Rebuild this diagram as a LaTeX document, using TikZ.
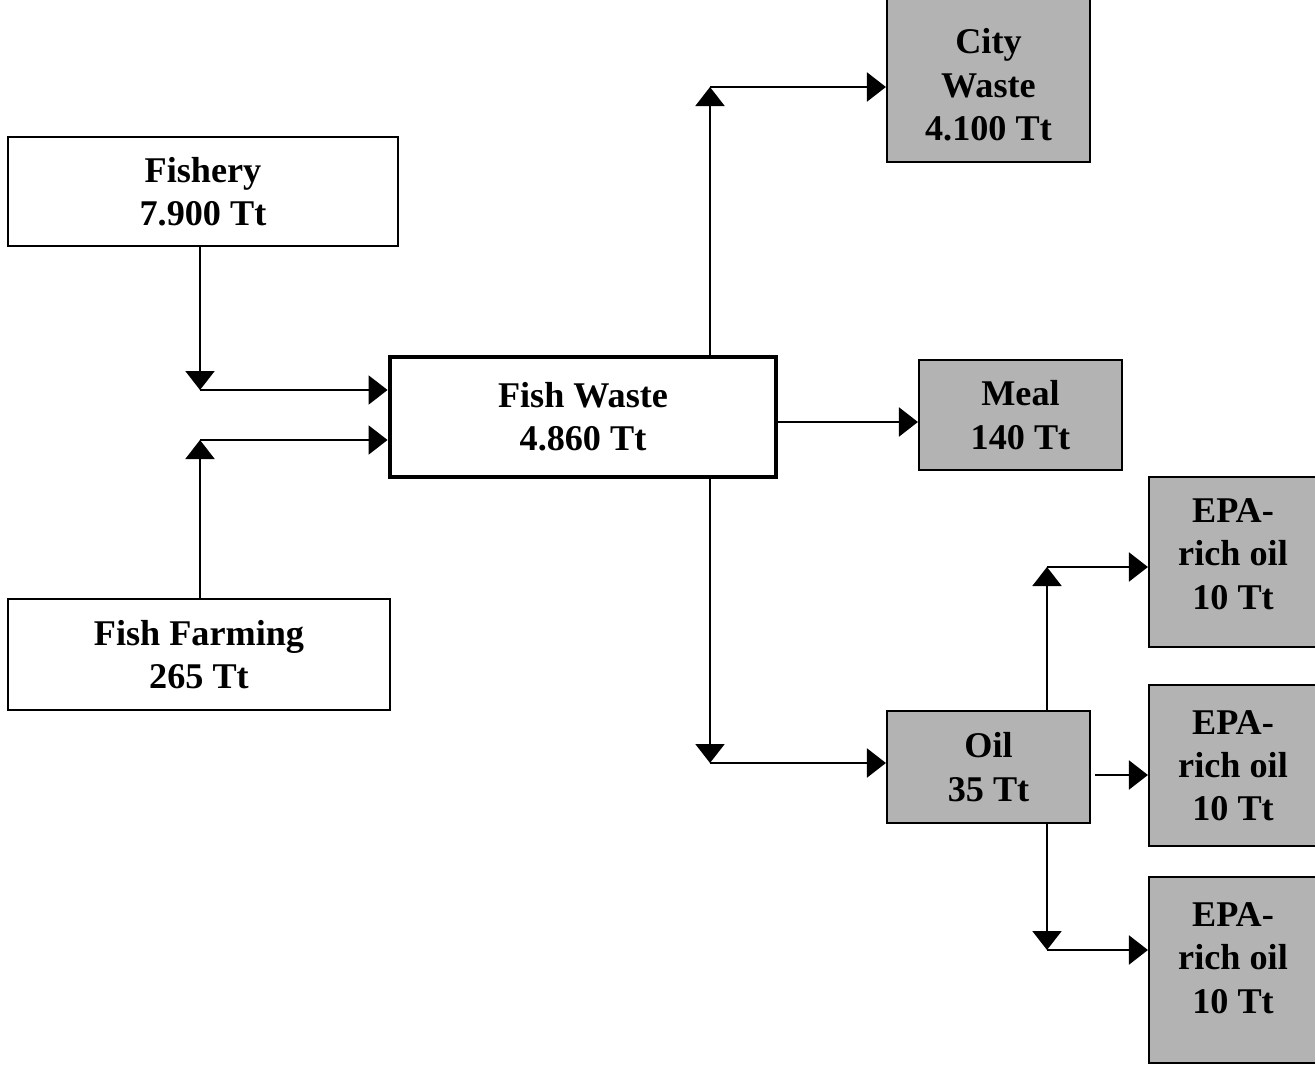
\documentclass[tikz,border=0pt]{standalone}
\usepackage{fontspec}
\setmainfont{Liberation Serif}
\usetikzlibrary{arrows.meta,positioning,calc}
\definecolor{boxgray}{HTML}{B3B3B3}
\tikzset{
  >={Triangle[length=1.9mm,width=2.9mm]},
  % boxes
  src/.style={draw=black,fill=white,line width=0.6pt,align=center,
              font=\fontsize{10.3}{12.3}\selectfont\bfseries,inner sep=0pt},
  hub/.style={src,line width=1.4pt},
  prod/.style={src,fill=boxgray},
  lift/.style={text depth=#1},
  drop/.style={text height=#1},
  % lines
  flow/.style={->,draw=black,line width=0.6pt},
}
\begin{document}
\begin{tikzpicture}
\useasboundingbox (0,0) rectangle (13.15,-10.65);
  \node[src,minimum width=3.9cm,minimum height=1.09cm] (fishery) at (2.03,-1.915) {Fishery\\7.900 Tt};
  \node[src,minimum width=3.82cm,minimum height=1.11cm] (farming) at (1.99,-6.545) {Fish Farming\\265 Tt};
  \node[hub,minimum width=3.86cm,minimum height=1.2cm] (waste) at (5.83,-4.17) {Fish Waste\\4.860 Tt};
  \node[prod,drop=1.25cm,minimum width=2.03cm,minimum height=1.68cm] (city) at (9.885,-0.78) {City\\Waste\\4.100 Tt};
  \node[prod,minimum width=2.03cm,minimum height=1.1cm] (meal) at (10.205,-4.15) {Meal\\140 Tt};
  \node[prod,minimum width=2.03cm,minimum height=1.12cm] (oil) at (9.885,-7.67) {Oil\\35 Tt};
  \node[prod,lift=0.16cm,minimum width=1.68cm,minimum height=1.7cm] (epa1) at (12.33,-5.62) {EPA-\\rich oil\\10 Tt};
  \node[prod,minimum width=1.68cm,minimum height=1.61cm] (epa2) at (12.33,-7.655) {EPA-\\rich oil\\10 Tt};
  \node[prod,lift=0.24cm,minimum width=1.68cm,minimum height=1.86cm] (epa3) at (12.33,-9.70) {EPA-\\rich oil\\10 Tt};
  % junctions
  \coordinate (fy) at (2.00,-3.90);
  \coordinate (fm) at (2.00,-4.40);
  \coordinate (cw) at (7.10,-0.87);
  \coordinate (ol) at (7.10,-7.63);
  \coordinate (e1) at (10.47,-5.67);
  \coordinate (e2) at (10.95,-7.75);
  \coordinate (e3) at (10.47,-9.50);
  % inflows
  \draw[flow] (fy |- fishery.south) -- (fy);
  \draw[flow] (fy) -- (fy -| waste.west);
  \draw[flow] (fm |- farming.north) -- (fm);
  \draw[flow] (fm) -- (fm -| waste.west);
  % outflows
  \draw[flow] (cw |- waste.north) -- (cw);
  \draw[flow] (cw) -- (cw -| city.west);
  \draw[flow] (waste.east |- 0,-4.22) -- (meal.west |- 0,-4.22);
  \draw[flow] (ol |- waste.south) -- (ol);
  \draw[flow] (ol) -- (ol -| oil.west);
  % oil split
  \draw[flow] (e1 |- oil.north) -- (e1);
  \draw[flow] (e1) -- (e1 -| epa1.west);
  \draw[flow] (e2) -- (e2 -| epa2.west);
  \draw[flow] (e3 |- oil.south) -- (e3);
  \draw[flow] (e3) -- (e3 -| epa3.west);
\end{tikzpicture}
\end{document}
